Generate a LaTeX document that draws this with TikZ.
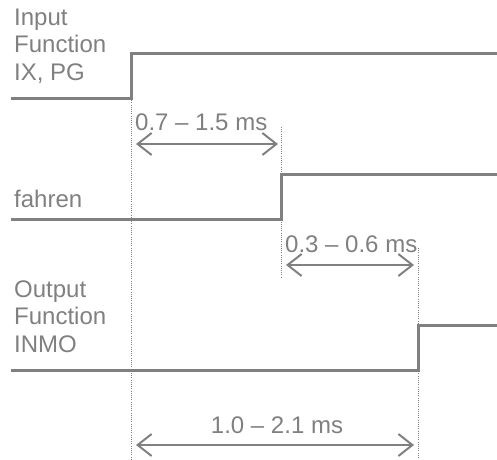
\documentclass[tikz,border=0pt]{standalone}
\usepackage{fontspec}
\setmainfont{Liberation Sans}
\usepackage{tikz}
\usetikzlibrary{arrows.meta}

\definecolor{siggray}{RGB}{128,128,128}

\tikzset{
  signal/.style={line width=3pt,color=siggray},
  marker/.style={line width=1pt,color=siggray,dash pattern=on 1pt off 1.2pt},
  span/.style={line width=2pt,color=siggray,{Straight Barb[length=14pt,width=22pt,line width=2pt]}-{Straight Barb[length=14pt,width=22pt,line width=2pt]}},
  lbl/.style={anchor=base west,inner sep=0pt,align=left,text=siggray,font=\fontsize{24}{27.5}\selectfont},
  dur/.style={inner sep=0pt,text=siggray,font=\fontsize{24}{27.5}\selectfont}
}

\begin{document}
\begin{tikzpicture}[x=1pt,y=-1pt]
  \useasboundingbox (0,0) rectangle (497,459);

  % signals
  \node[lbl] (in) at (14,80) {Input\\Function\\IX, PG};
  \coordinate (inA) at (11,98);
  \coordinate (inB) at (131,98);
  \coordinate (inC) at (131,53);
  \coordinate (inD) at (497,53);
  \draw[signal] (inA) -- (inB) -- (inC) -- (inD);

  \node[lbl] (fa) at (14,207) {fahren};
  \coordinate (faA) at (11,219);
  \coordinate (faB) at (281,219);
  \coordinate (faC) at (281,174);
  \coordinate (faD) at (497,174);
  \draw[signal] (faA) -- (faB) -- (faC) -- (faD);

  \node[lbl] (out) at (14,352) {Output\\Function\\INMO};
  \coordinate (outA) at (11,370);
  \coordinate (outB) at (418,370);
  \coordinate (outC) at (418,325);
  \coordinate (outD) at (497,325);
  \draw[signal] (outA) -- (outB) -- (outC) -- (outD);

  % markers
  \coordinate (m0) at (131,459);
  \coordinate (m1a) at (281,127);
  \coordinate (m1b) at (281,278);
  \coordinate (m2a) at (418,248);
  \coordinate (m2b) at (418,459);
  \draw[marker] (inB) -- (m0);
  \draw[marker] (m1a) -- (m1b);
  \draw[marker] (m2a) -- (m2b);

  % delays
  \node[dur,anchor=base west] (d1) at (135,130) {0.7 – 1.5 ms};
  \coordinate (d1a) at (136,144);
  \coordinate (d1b) at (278,144);
  \draw[span] (d1a) -- (d1b);

  \node[dur,anchor=base west] (d2) at (285,252) {0.3 – 0.6 ms};
  \coordinate (d2a) at (286,265);
  \coordinate (d2b) at (414,265);
  \draw[span] (d2a) -- (d2b);

  \node[dur,anchor=base] (d3) at (277,433) {1.0 – 2.1 ms};
  \coordinate (d3a) at (136,445);
  \coordinate (d3b) at (414,445);
  \draw[span] (d3a) -- (d3b);
\end{tikzpicture}
\end{document}
